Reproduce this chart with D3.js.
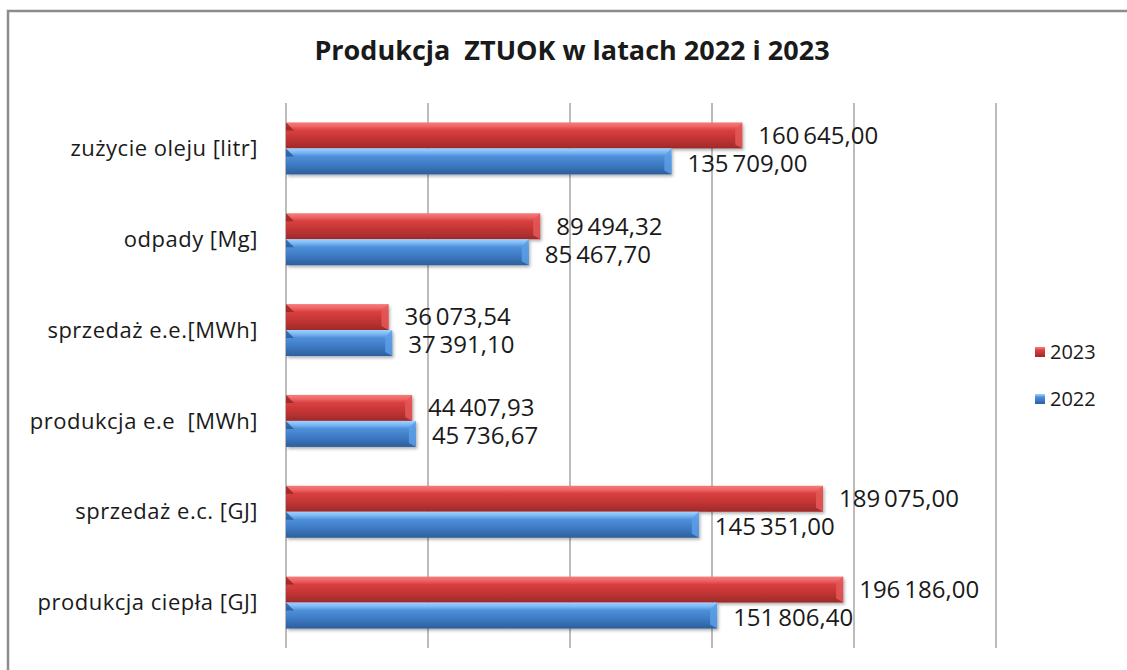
<!DOCTYPE html>
<html>
<head>
<meta charset="utf-8">
<script src="https://cdn.jsdelivr.net/npm/d3@7"></script>
<style>
  body { margin: 0; background: #fff; }
  text { font-family: "Open Sans", Lato, sans-serif; fill: #1a1a1a; }
</style>
</head>
<body>
<div id="graph"></div>
<script>
var categories = ['zużycie oleju [litr]', 'odpady [Mg]', 'sprzedaż e.e.[MWh]',
  'produkcja e.e  [MWh]', 'sprzedaż e.c. [GJ]', 'produkcja ciepła [GJ]']
var years = ['2023', '2022']
var values2023 = [160645.00, 89494.32, 36073.54, 44407.93, 189075.00, 196186.00]
var values2022 = [135709.00, 85467.70, 37391.10, 45736.67, 145351.00, 151806.40]
var xTicks = [0, 50000, 100000, 150000, 200000, 250000]

var width = 1127, height = 670

var svg = d3.select('#graph').append('svg')
  .attr('width', width).attr('height', height)

svg.append('rect').attr('width', width).attr('height', height).attr('fill', '#fff')

// frame (only top + left visible)
svg.append('path')
  .attr('d', 'M8,' + (height + 5) + 'V11H' + (width + 5))
  .attr('fill', 'none').attr('stroke', '#8c8c8c').attr('stroke-width', 2.5)

var defs = svg.append('defs')
function grad(id, stops){
  var g = defs.append('linearGradient').attr('id', id)
    .attr('x1', 0).attr('x2', 0).attr('y1', 0).attr('y2', 1)
  stops.forEach(s => g.append('stop').attr('offset', s[0]).attr('stop-color', s[1]))
}
grad('g2023', [[0, '#f57c7c'], [0.15, '#f06464'], [0.3, '#d94040'], [0.6, '#c53535'], [1, '#9e2a2a']])
grad('g2022', [[0, '#9fd2ff'], [0.15, '#7ab8f5'], [0.3, '#4f8fd9'], [0.6, '#3f7cc6'], [1, '#2d5e9c']])
var capColor = {'2023': '#e45858', '2022': '#5c9fe6'}
var notchColor = {'2023': '#8e2424', '2022': '#2a5590'}

var filt = defs.append('filter').attr('id', 'shadow')
  .attr('x', '-5%').attr('y', '-20%').attr('width', '110%').attr('height', '160%')
filt.append('feDropShadow').attr('dx', 1.5).attr('dy', 2).attr('stdDeviation', 1.5)
  .attr('flood-color', '#000').attr('flood-opacity', 0.3)

var x = d3.scaleLinear().domain([0, 250000]).range([286, 996])
var y = d3.scaleBand().domain(categories).range([103, 648])

var pl = d3.formatLocale({decimal: ',', thousands: '\u2009', grouping: [3], currency: ['', '']})
var fmt = pl.format(',.2f')

// gridlines
svg.append('g').selectAll('line').data(xTicks).join('line')
  .attr('x1', d => x(d)).attr('x2', d => x(d))
  .attr('y1', 103).attr('y2', 648)
  .attr('stroke', '#8f8f8f').attr('stroke-width', 1.2)

// title
svg.append('text')
  .attr('x', 572).attr('y', 60)
  .attr('text-anchor', 'middle')
  .style('font-size', '27px').style('font-weight', 'bold')
  .attr('xml:space', 'preserve')
  .text('Produkcja  ZTUOK w latach 2022 i 2023')

// category labels
svg.append('g').selectAll('text').data(categories).join('text')
  .attr('x', 258)
  .attr('y', d => y(d) + y.bandwidth() / 2)
  .attr('dy', '0.35em')
  .attr('text-anchor', 'end')
  .style('font-size', '22px')
  .style('letter-spacing', '0.5px')
  .attr('xml:space', 'preserve')
  .text(d => d)

var barH = 26
var rows = categories.map((c, i) => [
  {cat: c, year: '2023', v: values2023[i], y0: y(c) + y.bandwidth() / 2 - barH},
  {cat: c, year: '2022', v: values2022[i], y0: y(c) + y.bandwidth() / 2}
]).flat()

var bars = svg.append('g').selectAll('g').data(rows).join('g')

bars.append('rect')
  .attr('x', x(0)).attr('y', d => d.y0)
  .attr('width', d => x(d.v) - x(0)).attr('height', barH)
  .attr('fill', d => 'url(#g' + d.year + ')')
  .attr('filter', 'url(#shadow)')

// bevelled right end
bars.append('path')
  .attr('d', d => {
    var x1 = x(d.v), y0 = d.y0
    return 'M' + (x1 - 7) + ',' + (y0 + 7) + 'L' + x1 + ',' + y0 + 'V' + (y0 + barH) +
      'L' + (x1 - 7) + ',' + (y0 + barH - 4) + 'Z'
  })
  .attr('fill', d => capColor[d.year]).attr('opacity', 0.85)

// depth notch at left
bars.append('path')
  .attr('d', d => {
    var x0 = x(0), y0 = d.y0
    return 'M' + x0 + ',' + y0 + 'L' + (x0 + 8) + ',' + (y0 + 8) + 'H' + x0 + 'Z'
  })
  .attr('fill', d => notchColor[d.year]).attr('opacity', 0.8)

// value labels
svg.append('g').selectAll('text').data(rows).join('text')
  .attr('x', d => x(d.v) + 16)
  .attr('y', d => d.y0 + barH / 2 + (d.year == '2023' ? 0 : 2))
  .attr('dy', '0.35em')
  .style('font-size', '24px')
  .text(d => fmt(d.v))

// legend
var leg = svg.append('g').selectAll('g').data(years).join('g')
  .attr('transform', (d, i) => 'translate(1040,' + (352 + i * 47) + ')')
leg.append('rect')
  .attr('x', -5).attr('y', -5).attr('width', 10).attr('height', 10)
  .attr('fill', d => 'url(#g' + d + ')')
leg.append('text')
  .attr('x', 10).attr('dy', '0.35em')
  .style('font-size', '20px')
  .text(d => d)
</script>
</body>
</html>
